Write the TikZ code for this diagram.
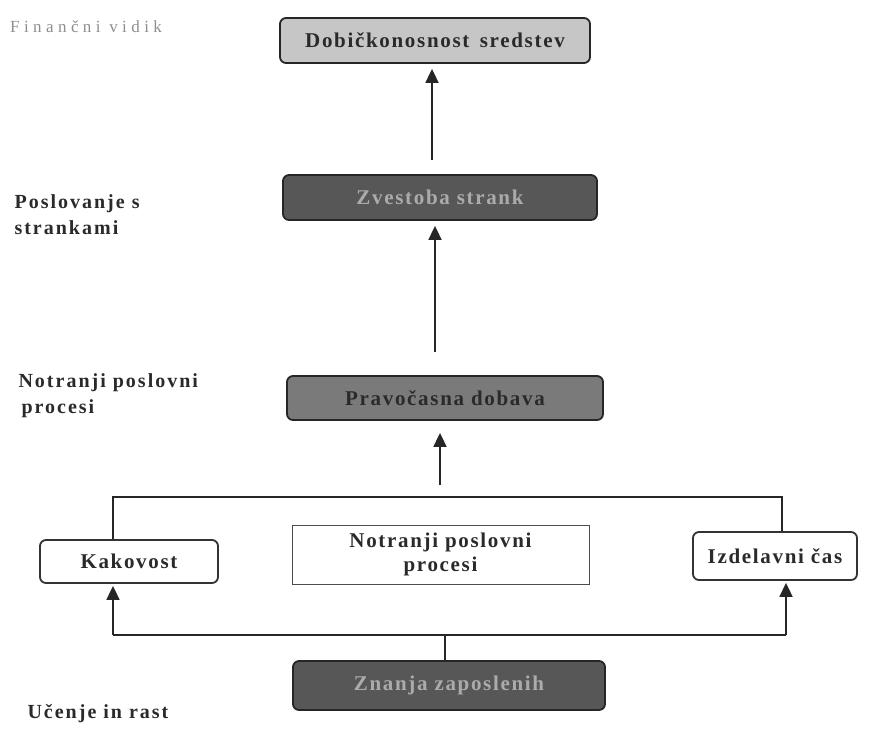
\documentclass[tikz,border=0pt]{standalone}
\usepackage{fontspec}
\setmainfont{Liberation Serif}
\usetikzlibrary{arrows.meta}
\definecolor{boxlight}{HTML}{C6C6C6}
\definecolor{boxdark}{HTML}{575757}
\definecolor{boxmid}{HTML}{7A7A7A}
\definecolor{inkdark}{HTML}{2A2A2A}
\definecolor{inklight}{HTML}{ABABAB}
\definecolor{inkfaint}{HTML}{8E8E8E}
\tikzset{
  goal/.style={draw=black!85, line width=1.8pt, rounded corners=6pt, font=\fontsize{21}{24}\selectfont\bfseries\addfontfeatures{LetterSpace=8}, align=center, inner sep=0pt},
  plain/.style={draw=black!80, line width=1.8pt, rounded corners=6pt, fill=white, text=inkdark, font=\fontsize{21}{24}\selectfont\bfseries\addfontfeatures{LetterSpace=8}, inner sep=0pt},
  flat/.style={draw=black!70, line width=1pt, fill=white, text=inkdark, font=\fontsize{21}{24}\selectfont\bfseries\addfontfeatures{LetterSpace=8}, align=center, inner sep=0pt},
  side/.style={anchor=north west, align=left, text=inkdark, font=\fontsize{20}{26}\selectfont\bfseries\addfontfeatures{LetterSpace=10}},
  link/.style={line width=1.8pt, draw=black!85},
  up/.style={link, -{Triangle[width=13pt,length=14pt]}}
}
\begin{document}
\begin{tikzpicture}[x=1pt, y=-1pt]
\useasboundingbox (0,0) rectangle (869,729);

% perspective labels
\node[anchor=north west, inner sep=0pt, text=inkfaint, font=\fontsize{17}{20}\selectfont\addfontfeatures{LetterSpace=26}] (fin) at (10,20) {Finančni vidik};
\node[side] (str) at (11,191) {Poslovanje s\\strankami};
\node[side] (proc) at (15,370) {Notranji poslovni\\\hspace*{3pt}procesi};
\node[side] (ucen) at (24,701) {Učenje in rast};

% goals
\node[goal, fill=boxlight, text=inkdark, minimum width=310pt, minimum height=45pt] (dob) at (435,40.5) {Dobičkonosnost\hspace{0.5em}sredstev};
\node[goal, fill=boxdark, text=inklight, minimum width=314pt, minimum height=45pt] (zve) at (440,197.5) {Zvestoba strank};
\node[goal, fill=boxmid, text=inkdark, minimum width=316pt, minimum height=44pt] (pra) at (445,398) {Pravočasna dobava};
\node[goal, fill=boxdark, text=inklight, minimum width=312pt, minimum height=49pt] (zna) at (449,685.5) {Znanja zaposlenih};

% internal process row
\node[plain, minimum width=178pt, minimum height=43pt] (kak) at (129,561.5) {Kakovost};
\node[flat, minimum width=297pt, minimum height=59pt] (not) at (440.5,554.5) {Notranji poslovni\\procesi};
\node[plain, minimum width=164pt, minimum height=48pt] (izd) at (775,556) {Izdelavni čas};

% arrow starts and line corners
\coordinate (a1) at (432,160);
\coordinate (a2) at (435,352);
\coordinate (a3) at (440,485);
\coordinate (tl) at (113,497);
\coordinate (tr) at (782,497);
\coordinate (bl) at (113,635);
\coordinate (br) at (786,635);
\coordinate (bm) at (445,635);

% vertical chain
\draw[up, shorten >=5pt] (a1) -- (a1 |- dob.south);
\draw[up, shorten >=5pt] (a2) -- (a2 |- zve.south);
\draw[up, shorten >=12pt] (a3) -- (a3 |- pra.south);

% bracket above the process row
\draw[link] (kak.north -| tl) -- (tl) -- (tr) -- (izd.north -| tr);

% feed from learning to the process row
\draw[link] (zna.north -| bm) -- (bm);
\draw[link] (bl) -- (br);
\draw[up, shorten >=2pt] (bl) -- (kak.south -| bl);
\draw[up, shorten >=2pt] (br) -- (izd.south -| br);
\end{tikzpicture}
\end{document}
